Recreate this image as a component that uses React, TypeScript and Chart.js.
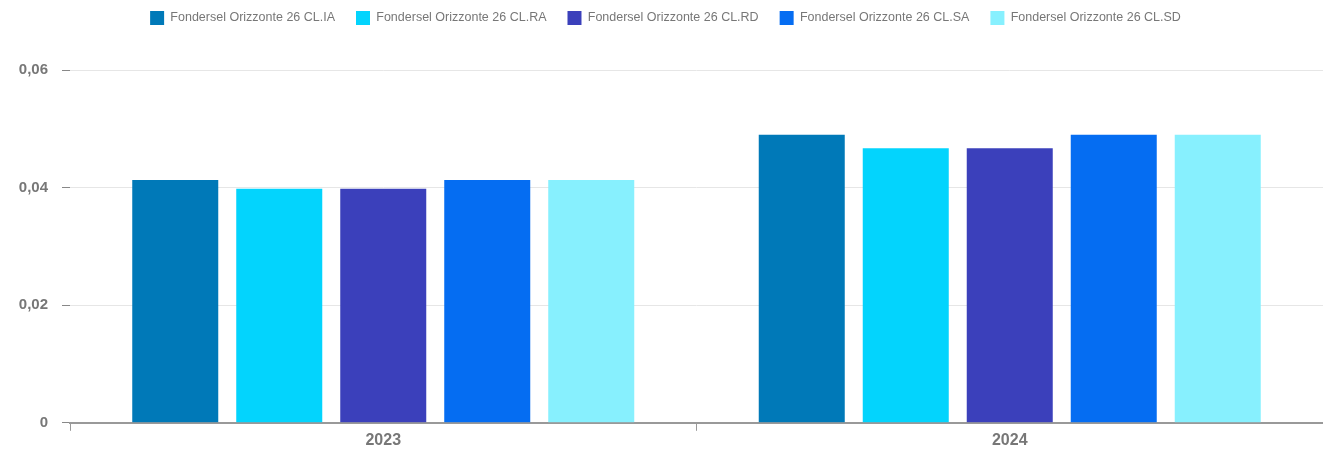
import React, { useEffect, useRef } from "react";
import { Chart, registerables } from "chart.js";

Chart.register(...registerables);

const categories = ["2023", "2024"];
const seriesNames = [
  "Fondersel Orizzonte 26 CL.IA",
  "Fondersel Orizzonte 26 CL.RA",
  "Fondersel Orizzonte 26 CL.RD",
  "Fondersel Orizzonte 26 CL.SA",
  "Fondersel Orizzonte 26 CL.SD",
];
const valuesIA = [0.0413, 0.049];
const valuesRA = [0.0398, 0.0467];
const valuesRD = [0.0398, 0.0467];
const valuesSA = [0.0413, 0.049];
const valuesSD = [0.0413, 0.049];
const seriesColors = ["#0079b8", "#03d4fd", "#3b40bb", "#056df2", "#87f0fe"];

const legendSpacer = {
  id: "legendSpacer",
  beforeInit(chart: any) {
    const legend = chart.legend;
    if (!legend) return;
    const orig = legend.fit;
    legend.fit = function () {
      orig.call(this);
      this.height += 35;
    };
  },
};

export default function App() {
  const ref = useRef<HTMLCanvasElement>(null);
  useEffect(() => {
    if (!ref.current) return;
    const all = [valuesIA, valuesRA, valuesRD, valuesSA, valuesSD];
    const chart = new Chart(ref.current, {
      type: "bar",
      data: {
        labels: categories,
        datasets: all.map((vals, i) => ({
          label: seriesNames[i],
          data: vals,
          backgroundColor: seriesColors[i],
          borderWidth: 0,
          categoryPercentage: 0.83,
          barPercentage: 0.827,
        })),
      },
      plugins: [legendSpacer],
      options: {
        animation: false,
        responsive: true,
        maintainAspectRatio: false,
        layout: { padding: { top: -18, right: 0, left: 0, bottom: 0 } },
        plugins: {
          tooltip: { enabled: false },
          legend: {
            position: "top",
            labels: {
              boxWidth: 14,
              boxHeight: 14,
              padding: 21,
              color: "#777",
              font: { family: "'Liberation Sans', Arial, sans-serif", size: 12.5 },
            },
          },
        },
        scales: {
          x: {
            grid: {
              display: true,
              drawOnChartArea: false,
              offset: true,
              tickLength: 8,
              color: "#999",
              tickColor: "#999",
            },
            border: { display: true, color: "#999", width: 2 },
            ticks: {
              color: "#777",
              padding: 0,
              font: { family: "'Liberation Sans', Arial, sans-serif", size: 16, weight: "bold" },
            },
          },
          y: {
            min: 0,
            max: 0.06,
            afterFit: (s: any) => {
              s.width = 62;
            },
            grid: {
              color: "#e6e6e6",
              tickColor: "#888",
              tickLength: 8,
            },
            border: { display: false },
            ticks: {
              stepSize: 0.02,
              color: "#777",
              padding: 14,
              font: { family: "'Liberation Sans', Arial, sans-serif", size: 15, weight: "bold" },
              callback: (v: any) => (Number(v) === 0 ? "0" : Number(v).toFixed(2).replace(".", ",")),
            },
          },
        },
      },
    });
    return () => chart.destroy();
  }, []);
  return (
    <div style={{ position: "relative", height: 442 }}>
      <canvas ref={ref} />
    </div>
  );
}
